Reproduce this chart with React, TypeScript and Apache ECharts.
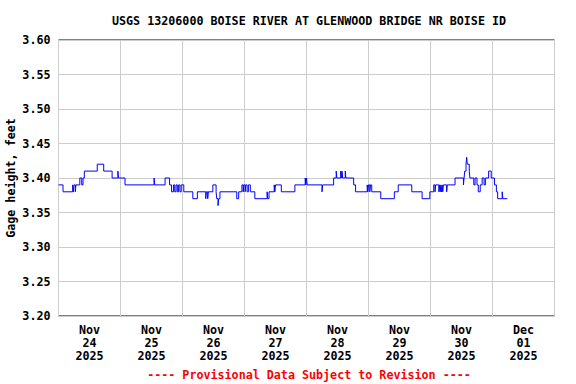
import React, { useEffect, useRef } from "react";
import * as echarts from "echarts";

const titleText = "USGS 13206000 BOISE RIVER AT GLENWOOD BRIDGE NR BOISE ID";
const footerText = "---- Provisional Data Subject to Revision ----";
const yAxisTitle = "Gage height, feet";
const dayLabels = [
  "Nov\n24\n2025",
  "Nov\n25\n2025",
  "Nov\n26\n2025",
  "Nov\n27\n2025",
  "Nov\n28\n2025",
  "Nov\n29\n2025",
  "Nov\n30\n2025",
  "Dec\n01\n2025",
];
const yMin = 3.2;
const yMax = 3.6;
const yStep = 0.05;
const hoursSpan = 192;

// hours since Nov 24 00:00 at which the reading changes, and the new reading
const stepHours = [
  0, 1.75, 5.5, 5.75, 6.0, 6.5, 6.75, 8.25, 9.0, 9.5, 10.0, 15.0, 17.5, 20.75,
  23.0, 23.25, 25.75, 37.0, 37.25, 41.25, 43.0, 43.75, 44.5, 45.0, 45.5, 46.0,
  46.5, 47.0, 47.5, 48.5, 52.0, 53.75, 57.0, 57.25, 57.75, 58.0, 59.75, 61.0,
  61.25, 61.75, 62.0, 62.5, 69.0, 69.75, 71.0, 71.5, 71.75, 72.25, 72.5, 73.0,
  73.5, 74.25, 76.0, 80.75, 81.0, 81.5, 83.5, 83.75, 84.0, 86.25, 91.5, 95.5,
  95.75, 96.0, 96.25, 102.0, 102.25, 106.5, 107.5, 107.75, 109.25, 109.5,
  109.75, 110.0, 111.0, 111.25, 114.25, 115.0, 119.5, 119.75, 120.0, 120.5,
  120.75, 121.25, 124.75, 130.0, 131.5, 136.75, 140.75, 143.75, 145.25, 145.75,
  146.0, 147.25, 147.5, 147.75, 148.0, 148.25, 148.5, 148.75, 149.0, 150.25,
  150.5, 153.5, 156.75, 157.0, 157.25, 157.75, 158.0, 158.25, 159.0, 159.25,
  160.75, 161.25, 162.0, 162.5, 163.25, 164.0, 164.75, 165.25, 166.5, 167.5,
  168.75, 169.5, 170.0, 171.75, 172.0, 173.75,
];
const stepValues = [
  3.39, 3.38, 3.39, 3.38, 3.39, 3.38, 3.39, 3.4, 3.39, 3.4, 3.41, 3.42, 3.41, 3.4,
  3.41, 3.4, 3.39, 3.4, 3.39, 3.4, 3.39, 3.38, 3.39, 3.38, 3.39, 3.38,
  3.39, 3.38, 3.39, 3.38, 3.37, 3.38, 3.37, 3.38, 3.37, 3.38, 3.39, 3.38,
  3.37, 3.36, 3.37, 3.38, 3.37, 3.38, 3.39, 3.38, 3.39, 3.38, 3.39, 3.38,
  3.39, 3.38, 3.37, 3.38, 3.37, 3.38, 3.39, 3.38, 3.39, 3.38, 3.39, 3.4,
  3.39, 3.4, 3.39, 3.38, 3.39, 3.4, 3.41, 3.4, 3.41, 3.4,
  3.41, 3.4, 3.41, 3.4, 3.39, 3.38, 3.39, 3.38, 3.39, 3.38,
  3.39, 3.38, 3.37, 3.38, 3.39, 3.38, 3.37, 3.38, 3.39, 3.38,
  3.39, 3.38, 3.39, 3.38, 3.39, 3.38, 3.39, 3.38, 3.39, 3.38,
  3.39, 3.4, 3.39, 3.4, 3.41, 3.42, 3.43, 3.42, 3.41, 3.4,
  3.39, 3.4, 3.39, 3.38, 3.39, 3.4, 3.39, 3.4, 3.41, 3.4,
  3.39, 3.38, 3.37, 3.38, 3.37, 3.37,
];

const FONT = "'DejaVu Sans Mono', 'Liberation Mono', monospace";
const FS = 11.7;

export default function App() {
  const ref = useRef<HTMLDivElement>(null);
  useEffect(() => {
    if (!ref.current) return;
    const chart = echarts.init(ref.current, undefined, { renderer: "svg" });
    const data = stepHours.map((h, i) => [h, stepValues[i]]);
    chart.setOption({
      animation: false,
      backgroundColor: "#ffffff",
      title: [
        {
          text: titleText,
          left: 309,
          top: 15,
          textAlign: "center",
          padding: 0,
          textStyle: { fontFamily: FONT, fontSize: FS, fontWeight: "bold", color: "#000" },
        },
        {
          text: footerText,
          left: 309,
          top: 369,
          textAlign: "center",
          padding: 0,
          textStyle: { fontFamily: FONT, fontSize: FS, fontWeight: "bold", color: "#ff0000" },
        },
      ],
      grid: {
        left: 58.5,
        right: 21.5,
        top: 40,
        bottom: 68,
        show: true,
        containLabel: false,
        outerBoundsMode: "none",
        borderColor: "#000",
        borderWidth: 1,
        backgroundColor: "transparent",
      },
      xAxis: [
        {
          type: "value",
          min: 0,
          max: hoursSpan,
          interval: 24,
          axisLine: { show: false },
          axisTick: { show: false },
          axisLabel: { show: false },
          splitLine: { show: true, lineStyle: { color: "#cccccc", width: 1 } },
        },
        {
          type: "category",
          data: dayLabels,
          position: "bottom",
          boundaryGap: true,
          axisLine: { show: false },
          axisTick: { show: false },
          splitLine: { show: false },
          axisLabel: {
            interval: 0,
            margin: 7,
            fontFamily: FONT,
            fontSize: FS,
            fontWeight: "bold",
            color: "#000",
            lineHeight: 13,
          },
        },
      ],
      yAxis: {
        type: "value",
        min: yMin,
        max: yMax,
        interval: yStep,
        name: yAxisTitle,
        nameLocation: "middle",
        nameGap: 42,
        nameMoveOverlap: false,
        nameTextStyle: { fontFamily: FONT, fontSize: FS, fontWeight: "bold", color: "#000" },
        axisLine: { show: false },
        axisTick: { show: false },
        axisLabel: {
          margin: 8,
          fontFamily: FONT,
          fontSize: FS,
          fontWeight: "bold",
          color: "#000",
          formatter: (v: number) => v.toFixed(2),
        },
        splitLine: { show: true, lineStyle: { color: "#cccccc", width: 1 } },
      },
      series: [
        {
          type: "line",
          xAxisIndex: 0,
          step: "end",
          data,
          showSymbol: false,
          symbol: "none",
          lineStyle: { color: "#0000ff", width: 1 },
        },
      ],
    });
    return () => chart.dispose();
  }, []);
  return (
    <div
      ref={ref}
      style={{ position: "fixed", left: 0, top: 0, width: 576, height: 384, background: "#fff" }}
    />
  );
}
